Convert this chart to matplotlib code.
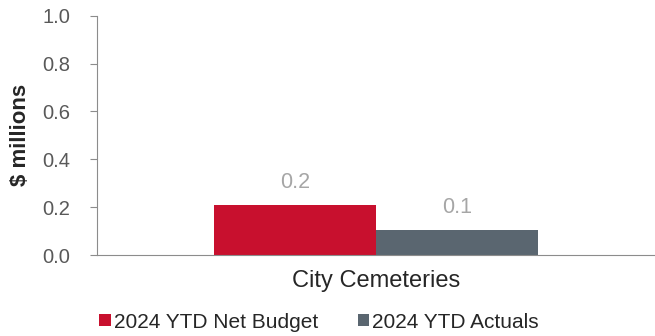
import matplotlib
matplotlib.use("Agg")
import matplotlib.pyplot as plt
import numpy as np

plt.rcParams["font.family"] = ["Liberation Sans", "DejaVu Sans"]

categories = ["City Cemeteries"]
series_names = ["2024 YTD Net Budget", "2024 YTD Actuals"]
budget = [0.21]
actuals = [0.105]
value_labels = [["0.2"], ["0.1"]]
colors = ["#c8102e", "#5a6670"]

fig = plt.figure(figsize=(6.55, 3.36), dpi=100)
ax = fig.add_axes([0.148, 0.241, 0.852, 0.712])

x = np.arange(len(categories))
w = 0.29
for i, (vals, name, c) in enumerate(zip([budget, actuals], series_names, colors)):
    bars = ax.bar(x + (i - 0.5) * w, vals, width=w, color=c, label=name)
    for b, lab in zip(bars, value_labels[i]):
        ax.text(b.get_x() + b.get_width() / 2, b.get_height() + 0.05, lab,
                ha="center", va="bottom", fontsize=15.5, color="#a6a6a6")

ax.set_xlim(-0.5, 0.5)
ax.set_ylim(0, 1.0)
ax.set_yticks(np.arange(0, 1.01, 0.2))
ax.set_yticklabels([f"{v:.1f}" for v in np.arange(0, 1.01, 0.2)])
ax.set_xticks(x)
ax.set_xticklabels(categories)

for s in ["top", "right"]:
    ax.spines[s].set_visible(False)
for s in ["left", "bottom"]:
    ax.spines[s].set_color("#8c8c8c")
    ax.spines[s].set_linewidth(0.8)

ax.tick_params(axis="y", colors="#8c8c8c", labelcolor="#595959", labelsize=14.5,
               length=5, width=0.8, pad=14)
ax.tick_params(axis="x", length=0, labelsize=17, labelcolor="#262626", pad=11)
ax.set_ylabel("$ millions", fontsize=16, fontweight="bold", color="#262626", labelpad=8)

ax.legend(loc="center", bbox_to_anchor=(0.398, -0.28), ncol=2, frameon=False,
          fontsize=15, handlelength=0.55, handleheight=0.55, handletextpad=0.15,
          columnspacing=1.9, labelcolor="#262626")

fig.savefig("out.png", dpi=100)
